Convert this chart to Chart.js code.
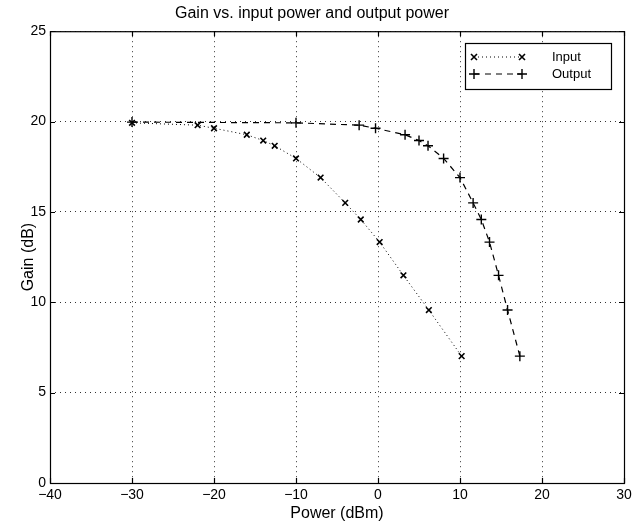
<!DOCTYPE html>
<html lang="en">
<head>
    <meta charset="UTF-8">
    <title>Gain vs. input power and output power</title>
    <script src="https://cdn.jsdelivr.net/npm/chart.js@4.4.3/dist/chart.umd.min.js"></script>
    <style>
        body { margin: 0; background: #fff; }
        #wrap { width: 641px; height: 523px; }
    </style>
</head>
<body>
    <div id="wrap"><canvas id="chart" width="641" height="523"></canvas></div>

    <script>
        // Datos
        const inputPower  = [-30, -22, -20, -16, -14, -12.6, -10, -7, -4, -2.1, 0.2, 3.1, 6.2, 10.2];
        const inputGain   = [19.93, 19.8, 19.63, 19.27, 18.95, 18.66, 17.96, 16.9, 15.5, 14.58, 13.33, 11.49, 9.57, 7.02];
        const outputPower = [-30, -10, -2.3, -0.3, 3.3, 5.0, 6.1, 8.0, 10.0, 11.6, 12.6, 13.6, 14.7, 15.8, 17.3];
        const outputGain  = [19.97, 19.93, 19.8, 19.63, 19.27, 18.95, 18.66, 17.96, 16.9, 15.5, 14.58, 13.33, 11.49, 9.57, 7.02];
        const xTicks = [-40, -30, -20, -10, 0, 10, 20, 30];
        const yTicks = [0, 5, 10, 15, 20, 25];
        const seriesNames = ['Input', 'Output'];

        const FONT = '"Liberation Sans", Arial, Helvetica, sans-serif';
        const toPoints = (xs, ys) => xs.map((x, i) => ({ x: x, y: ys[i] }));
        const minus = v => String(v).replace('-', '\u2212');

        // marco y marcas de tick hacia dentro (estilo matlab)
        const framePlugin = {
            id: 'frame',
            afterDraw(chart) {
                const { ctx, chartArea: a, scales } = chart;
                ctx.save();
                ctx.strokeStyle = '#000';
                ctx.lineWidth = 1.2;
                ctx.strokeRect(a.left + 0.5, a.top + 0.5, a.right - a.left, a.bottom - a.top);
                const len = 5;
                ctx.beginPath();
                xTicks.forEach(v => {
                    const px = Math.round(scales.x.getPixelForValue(v)) + 0.5;
                    ctx.moveTo(px, a.bottom); ctx.lineTo(px, a.bottom - len);
                    ctx.moveTo(px, a.top); ctx.lineTo(px, a.top + len);
                });
                yTicks.forEach(v => {
                    const py = Math.round(scales.y.getPixelForValue(v)) + 0.5;
                    ctx.moveTo(a.left, py); ctx.lineTo(a.left + len, py);
                    ctx.moveTo(a.right, py); ctx.lineTo(a.right - len, py);
                });
                ctx.stroke();
                ctx.restore();
            }
        };

        function drawMarker(ctx, style, x, y, r) {
            ctx.beginPath();
            if (style === 'crossRot') {
                ctx.moveTo(x - r * 0.75, y - r * 0.75); ctx.lineTo(x + r * 0.75, y + r * 0.75);
                ctx.moveTo(x - r * 0.75, y + r * 0.75); ctx.lineTo(x + r * 0.75, y - r * 0.75);
            } else {
                ctx.moveTo(x - r, y); ctx.lineTo(x + r, y);
                ctx.moveTo(x, y - r); ctx.lineTo(x, y + r);
            }
            ctx.stroke();
        }

        // leyenda tipo matlab: linea con marcador en cada extremo
        const legendPlugin = {
            id: 'matlabLegend',
            afterDatasetsDraw(chart) {
                const { ctx } = chart;
                const box = { x: 465, y: 43, w: 146, h: 46 };
                ctx.save();
                ctx.fillStyle = '#fff';
                ctx.fillRect(box.x, box.y, box.w, box.h);
                ctx.strokeStyle = '#000';
                ctx.lineWidth = 1.2;
                ctx.strokeRect(box.x + 0.5, box.y + 0.5, box.w, box.h);
                chart.data.datasets.forEach((ds, i) => {
                    const y = box.y + 14 + i * 17;
                    const x1 = box.x + 9, x2 = box.x + 57;
                    ctx.strokeStyle = '#000';
                    ctx.lineWidth = 1;
                    ctx.setLineDash(ds.borderDash);
                    ctx.beginPath();
                    ctx.moveTo(x1, y); ctx.lineTo(x2, y);
                    ctx.stroke();
                    ctx.setLineDash([]);
                    ctx.lineWidth = ds.pointBorderWidth;
                    drawMarker(ctx, ds.pointStyle, x1, y, ds.pointRadius);
                    drawMarker(ctx, ds.pointStyle, x2, y, ds.pointRadius);
                    ctx.fillStyle = '#000';
                    ctx.font = '13px ' + FONT;
                    ctx.textBaseline = 'middle';
                    ctx.fillText(ds.label, box.x + 87, y);
                });
                ctx.restore();
            }
        };

        const gridStyle = {
            color: 'rgba(0,0,0,0.8)',
            lineWidth: 1,
            drawTicks: false
        };

        new Chart(document.getElementById('chart'), {
            type: 'scatter',
            data: {
                datasets: [{
                    label: seriesNames[0],
                    data: toPoints(inputPower, inputGain),
                    showLine: true,
                    borderColor: '#000',
                    backgroundColor: '#000',
                    borderWidth: 1,
                    borderDash: [1, 3],
                    pointStyle: 'crossRot',
                    pointRadius: 4,
                    pointBorderWidth: 1.6
                }, {
                    label: seriesNames[1],
                    data: toPoints(outputPower, outputGain),
                    showLine: true,
                    borderColor: '#000',
                    backgroundColor: '#000',
                    borderWidth: 1.2,
                    borderDash: [6, 5],
                    pointStyle: 'cross',
                    pointRadius: 5,
                    pointBorderWidth: 1.4
                }]
            },
            options: {
                responsive: false,
                animation: false,
                devicePixelRatio: 1,
                layout: { padding: { left: 0, right: 17, top: 0, bottom: 0 } },
                plugins: {
                    legend: { display: false },
                    tooltip: { enabled: false },
                    title: {
                        display: true,
                        text: 'Gain vs. input power and output power',
                        color: '#000',
                        font: { family: FONT, size: 16, weight: 'normal' },
                        padding: { top: 4, bottom: 8 }
                    }
                },
                scales: {
                    x: {
                        type: 'linear',
                        min: -40, max: 30,
                        afterBuildTicks: s => { s.ticks = xTicks.map(v => ({ value: v })); },
                        afterFit: s => { s.height = 40; },
                        grid: Object.assign({}, gridStyle),
                        border: { display: false, dash: [1, 4] },
                        ticks: {
                            color: '#000',
                            padding: 4,
                            maxRotation: 0,
                            font: { family: FONT, size: 14 },
                            callback: v => minus(v)
                        },
                        title: {
                            display: true,
                            text: 'Power (dBm)',
                            color: '#000',
                            font: { family: FONT, size: 16 },
                            padding: { top: 0, bottom: 0 }
                        }
                    },
                    y: {
                        type: 'linear',
                        min: 0, max: 25,
                        afterBuildTicks: s => { s.ticks = yTicks.map(v => ({ value: v })); },
                        afterFit: s => { s.width = 50; },
                        grid: Object.assign({}, gridStyle),
                        border: { display: false, dash: [1, 4] },
                        ticks: {
                            color: '#000',
                            padding: 4,
                            font: { family: FONT, size: 14 },
                            callback: v => minus(v)
                        },
                        title: {
                            display: true,
                            text: 'Gain (dB)',
                            color: '#000',
                            font: { family: FONT, size: 16 },
                            padding: { top: 19, bottom: 0 }
                        }
                    }
                }
            },
            plugins: [framePlugin, legendPlugin]
        });
    </script>
</body>
</html>
